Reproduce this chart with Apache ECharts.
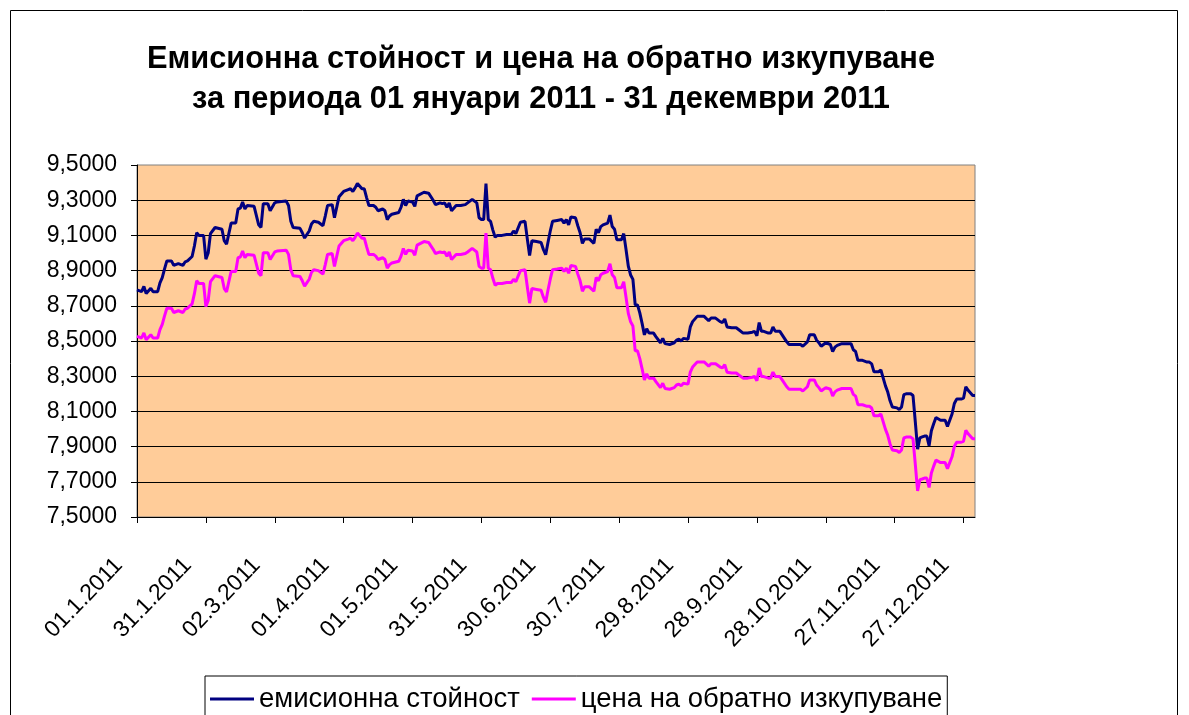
<!DOCTYPE html>
<html>
<head>
<meta charset="utf-8">
<title>Емисионна стойност и цена на обратно изкупуване</title>
<script src="https://cdn.jsdelivr.net/npm/echarts@6/dist/echarts.min.js"></script>
<style>
  html, body { margin: 0; padding: 0; background: #fff; }
  #chart { width: 1189px; height: 715px; }
</style>
</head>
<body>
<div id="chart"></div>
<script>
var titleLines = [
    'Емисионна стойност и цена на обратно изкупуване',
    'за периода 01 януари 2011 - 31 декември 2011'
];
var seriesNames = ['емисионна стойност', 'цена на обратно изкупуване'];

// x tick labels, one every 30 days starting 01.1.2011
var tickLabels = ['01.1.2011', '31.1.2011', '02.3.2011', '01.4.2011', '01.5.2011', '31.5.2011',
    '30.6.2011', '30.7.2011', '29.8.2011', '28.9.2011', '28.10.2011', '27.11.2011', '27.12.2011'];

// day of the year (0 = 01.1.2011)
var days = [0, 2, 3, 4, 6, 7, 9, 10, 11, 12, 13, 15, 16, 18, 20, 21, 22, 24, 25, 26,
    27, 29, 30, 31, 32, 34, 37, 38, 39, 40, 41, 43, 44, 45, 46, 47, 48, 51, 53, 54,
    55, 57, 58, 60, 61, 65, 66, 67, 68, 71, 72, 73, 75, 76, 77, 79, 81, 82, 83, 85,
    86, 88, 90, 92, 93, 94, 95, 96, 98, 99, 100, 101, 103, 104, 105, 107, 108, 109, 110, 111,
    114, 115, 116, 117, 118, 120, 121, 122, 125, 127, 129, 130, 132, 133, 134, 135, 136, 137, 139, 141,
    143, 144, 146, 148, 149, 150, 151, 152, 153, 154, 155, 156, 157, 159, 161, 163, 164, 165, 167, 169,
    170, 171, 172, 174, 176, 177, 178, 179, 180, 181, 183, 185, 186, 187, 188, 189, 191, 192, 193, 194,
    195, 197, 199, 200, 201, 202, 203, 205, 206, 207, 208, 209, 211, 212, 213, 214, 215, 216, 217, 218,
    219, 220, 221, 222, 223, 225, 226, 228, 229, 230, 232, 234, 235, 236, 237, 238, 240, 241, 242, 244,
    247, 249, 250, 252, 254, 255, 256, 257, 259, 261, 262, 264, 266, 268, 269, 270, 271, 272, 273, 275,
    276, 277, 278, 280, 281, 283, 284, 286, 289, 290, 292, 293, 295, 296, 297, 298, 299, 300, 302, 303,
    304, 305, 307, 311, 312, 313, 314, 316, 318, 319, 320, 321, 323, 324, 326, 327, 328, 329, 331, 332,
    333, 334, 335, 337, 338, 339, 340, 341, 342, 343, 344, 345, 346, 347, 348, 350, 351, 352, 353, 354,
    355, 356, 357, 359, 360, 361, 362, 364, 365];

var issueValues = [8.79, 8.78, 8.81, 8.77, 8.80, 8.78, 8.78, 8.83, 8.86, 8.91, 8.955, 8.955, 8.93, 8.94, 8.93, 8.95, 8.955, 8.98, 9.04, 9.115,
    9.10, 9.10, 8.965, 9.00, 9.11, 9.145, 9.135, 9.07, 9.05, 9.11, 9.17, 9.17, 9.25, 9.255, 9.29, 9.25, 9.27, 9.265, 9.16, 9.145,
    9.28, 9.28, 9.24, 9.285, 9.29, 9.295, 9.27, 9.18, 9.145, 9.14, 9.115, 9.085, 9.125, 9.165, 9.18, 9.175, 9.155, 9.21, 9.27, 9.275,
    9.20, 9.32, 9.35, 9.36, 9.365, 9.35, 9.37, 9.395, 9.365, 9.365, 9.315, 9.27, 9.27, 9.26, 9.24, 9.25, 9.24, 9.19, 9.21, 9.22,
    9.23, 9.26, 9.305, 9.27, 9.295, 9.29, 9.265, 9.325, 9.345, 9.34, 9.30, 9.275, 9.285, 9.28, 9.285, 9.26, 9.285, 9.24, 9.27, 9.27,
    9.275, 9.285, 9.305, 9.285, 9.20, 9.19, 9.19, 9.395, 9.19, 9.18, 9.13, 9.09, 9.10, 9.10, 9.105, 9.105, 9.125, 9.11, 9.175, 9.18,
    9.08, 8.985, 9.07, 9.065, 9.06, 9.02, 8.99, 9.06, 9.125, 9.18, 9.185, 9.19, 9.17, 9.19, 9.16, 9.205, 9.20, 9.155, 9.115, 9.055,
    9.08, 9.08, 9.055, 9.135, 9.115, 9.15, 9.16, 9.17, 9.215, 9.15, 9.135, 9.075, 9.075, 9.11, 9.02, 8.925, 8.875, 8.85, 8.705, 8.705,
    8.66, 8.60, 8.535, 8.57, 8.545, 8.545, 8.525, 8.49, 8.515, 8.485, 8.48, 8.49, 8.505, 8.51, 8.50, 8.515, 8.51, 8.58, 8.61, 8.64,
    8.64, 8.615, 8.63, 8.63, 8.61, 8.605, 8.625, 8.58, 8.575, 8.575, 8.565, 8.545, 8.545, 8.55, 8.555, 8.53, 8.605, 8.555, 8.555, 8.545,
    8.545, 8.58, 8.555, 8.555, 8.535, 8.495, 8.48, 8.48, 8.48, 8.47, 8.495, 8.535, 8.535, 8.505, 8.49, 8.47, 8.48, 8.49, 8.48, 8.44,
    8.465, 8.475, 8.485, 8.485, 8.45, 8.44, 8.39, 8.39, 8.38, 8.38, 8.37, 8.325, 8.325, 8.335, 8.245, 8.21, 8.16, 8.125, 8.12, 8.11,
    8.125, 8.195, 8.20, 8.20, 8.19, 8.04, 7.885, 7.95, 7.955, 7.96, 7.96, 7.905, 7.99, 8.03, 8.065, 8.05, 8.05, 8.05, 8.015, 8.05,
    8.085, 8.145, 8.17, 8.17, 8.175, 8.24, 8.22, 8.19, 8.19];

var redeemValues = [8.526, 8.517, 8.546, 8.507, 8.536, 8.517, 8.517, 8.565, 8.594, 8.643, 8.686, 8.686, 8.662, 8.672, 8.662, 8.682, 8.686, 8.711, 8.769, 8.842,
    8.827, 8.827, 8.696, 8.730, 8.837, 8.871, 8.861, 8.798, 8.779, 8.837, 8.895, 8.895, 8.973, 8.977, 9.011, 8.973, 8.992, 8.987, 8.885, 8.871,
    9.002, 9.002, 8.963, 9.006, 9.011, 9.016, 8.992, 8.905, 8.871, 8.866, 8.842, 8.812, 8.851, 8.890, 8.905, 8.900, 8.880, 8.934, 8.992, 8.997,
    8.924, 9.040, 9.070, 9.079, 9.084, 9.070, 9.089, 9.113, 9.084, 9.084, 9.036, 8.992, 8.992, 8.982, 8.963, 8.973, 8.963, 8.914, 8.934, 8.943,
    8.953, 8.982, 9.026, 8.992, 9.016, 9.011, 8.987, 9.045, 9.065, 9.060, 9.021, 8.997, 9.006, 9.002, 9.006, 8.982, 9.006, 8.963, 8.992, 8.992,
    8.997, 9.006, 9.026, 9.006, 8.924, 8.914, 8.914, 9.113, 8.914, 8.905, 8.856, 8.817, 8.827, 8.827, 8.832, 8.832, 8.851, 8.837, 8.900, 8.905,
    8.808, 8.715, 8.798, 8.793, 8.788, 8.749, 8.720, 8.788, 8.851, 8.905, 8.909, 8.914, 8.895, 8.914, 8.885, 8.929, 8.924, 8.880, 8.842, 8.783,
    8.808, 8.808, 8.783, 8.861, 8.842, 8.876, 8.885, 8.895, 8.939, 8.876, 8.861, 8.803, 8.803, 8.837, 8.749, 8.657, 8.609, 8.585, 8.444, 8.444,
    8.400, 8.342, 8.279, 8.313, 8.289, 8.289, 8.269, 8.235, 8.260, 8.230, 8.226, 8.235, 8.250, 8.255, 8.245, 8.260, 8.255, 8.323, 8.352, 8.381,
    8.381, 8.357, 8.371, 8.371, 8.352, 8.347, 8.366, 8.323, 8.318, 8.318, 8.308, 8.289, 8.289, 8.294, 8.298, 8.274, 8.347, 8.298, 8.298, 8.289,
    8.289, 8.323, 8.298, 8.298, 8.279, 8.240, 8.226, 8.226, 8.226, 8.216, 8.240, 8.279, 8.279, 8.250, 8.235, 8.216, 8.226, 8.235, 8.226, 8.187,
    8.211, 8.221, 8.230, 8.230, 8.197, 8.187, 8.138, 8.138, 8.129, 8.129, 8.119, 8.075, 8.075, 8.085, 7.998, 7.964, 7.915, 7.881, 7.876, 7.867,
    7.881, 7.949, 7.954, 7.954, 7.944, 7.799, 7.648, 7.712, 7.716, 7.721, 7.721, 7.668, 7.750, 7.789, 7.823, 7.809, 7.809, 7.809, 7.775, 7.809,
    7.842, 7.901, 7.925, 7.925, 7.930, 7.993, 7.973, 7.944, 7.944];

var fontName = '"Liberation Sans", Arial, sans-serif';

var chart = echarts.init(document.getElementById('chart'));

var issueData = days.map(function(d, i) { return [d, issueValues[i]]; });
var redeemData = days.map(function(d, i) { return [d, redeemValues[i]]; });
// ticks only on the labelled days (no extra tick at the axis end)
var tickDays = tickLabels.map(function(_, i) { return i * 30; });

var option = {
    animation: false,
    backgroundColor: '#fff',
    textStyle: { fontFamily: fontName },
    graphic: [
        {
            type: 'rect',
            silent: true,
            shape: { x: 10.5, y: 10.5, width: 1167, height: 800 },
            style: { fill: 'none', stroke: '#000', lineWidth: 1 }
        },
        {
            type: 'text',
            x: 541, y: 60,
            style: { text: titleLines[0], font: 'bold 30.8px ' + fontName, align: 'center', verticalAlign: 'middle', fill: '#000' }
        },
        {
            type: 'text',
            x: 541, y: 100,
            style: { text: titleLines[1], font: 'bold 30.8px ' + fontName, align: 'center', verticalAlign: 'middle', fill: '#000' }
        }
    ],
    grid: {
        left: 137,
        right: 214,
        top: 165,
        bottom: 198,
        show: true,
        backgroundColor: '#FFCC99',
        borderColor: '#808080',
        borderWidth: 1
    },
    legend: {
        data: seriesNames,
        left: 205,
        top: 676,
        padding: [9, 5, 40, 5],
        borderColor: '#000',
        borderWidth: 1,
        backgroundColor: '#fff',
        icon: 'rect',
        itemWidth: 44,
        itemHeight: 3,
        itemGap: 12,
        textStyle: { fontSize: 27.5, color: '#000', fontFamily: fontName }
    },
    xAxis: {
        type: 'value',
        min: 0,
        max: 365,
        interval: 30,
        axisLine: { show: true, lineStyle: { color: '#000', width: 1 } },
        axisTick: { show: true, length: 6, customValues: tickDays, lineStyle: { color: '#000' } },
        splitLine: { show: false },
        axisLabel: {
            customValues: tickDays,
            rotate: 46,
            margin: 26,
            padding: [0, 26, 0, 0],
            fontSize: 23,
            color: '#000',
            fontFamily: fontName,
            formatter: function(v) {
                if (v % 30 !== 0) return '';
                return tickLabels[v / 30] || '';
            }
        }
    },
    yAxis: {
        type: 'value',
        min: 7.5,
        max: 9.5,
        interval: 0.2,
        axisLine: { show: true, lineStyle: { color: '#000', width: 1 } },
        axisTick: { show: true, length: 6, lineStyle: { color: '#000' } },
        splitLine: { show: true, showMaxLine: false, lineStyle: { color: '#000', width: 1 } },
        axisLabel: {
            margin: 20,
            fontSize: 23,
            color: '#000',
            fontFamily: fontName,
            formatter: function(v) { return v.toFixed(4).replace('.', ','); }
        }
    },
    series: [
        {
            name: seriesNames[0],
            type: 'line',
            data: issueData,
            showSymbol: false,
            color: '#000080',
            lineStyle: { color: '#000080', width: 3 }
        },
        {
            name: seriesNames[1],
            type: 'line',
            data: redeemData,
            showSymbol: false,
            color: '#FF00FF',
            lineStyle: { color: '#FF00FF', width: 3 }
        }
    ]
};

chart.setOption(option);
</script>
</body>
</html>
